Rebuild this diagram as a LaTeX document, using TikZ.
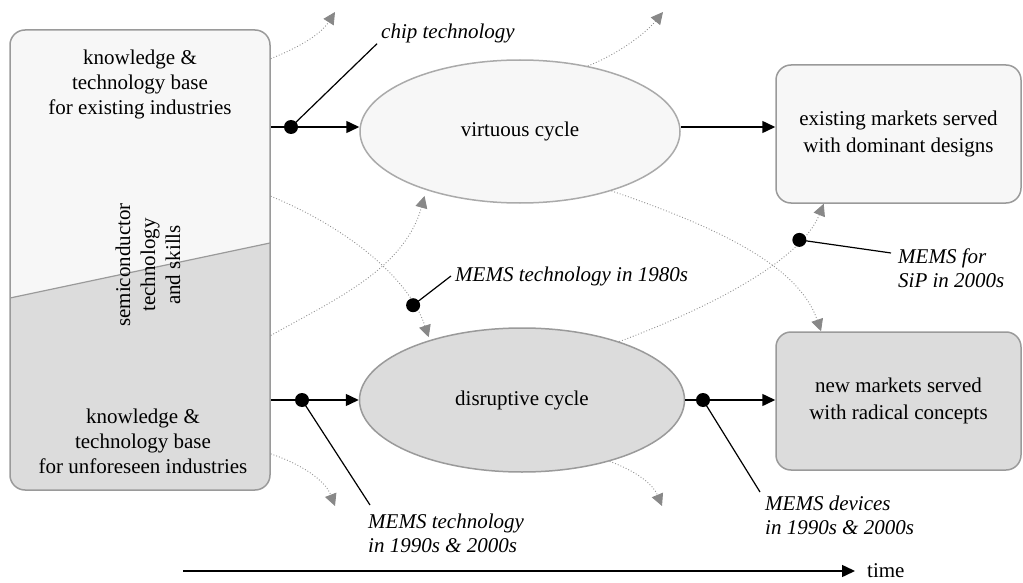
\documentclass[tikz,border=0pt]{standalone}
\usepackage{fontspec}
\setmainfont{Liberation Serif}
\usetikzlibrary{arrows.meta,shapes.geometric}
\definecolor{lightf}{HTML}{F7F7F7}
\definecolor{darkf}{HTML}{DCDCDC}
\definecolor{bord}{HTML}{9A9A9A}
\definecolor{bordl}{HTML}{AAAAAA}
\definecolor{flowc}{HTML}{909090}
\definecolor{tipc}{HTML}{888888}
\begin{document}
\begin{tikzpicture}[x=1pt,y=-1pt,
  every node/.style={font=\fontsize{21}{25}\selectfont},
  box/.style={rectangle, rounded corners=15pt, draw=bord, line width=1.5pt, align=center, inner sep=0pt},
  cyc/.style={ellipse, draw=bord, line width=1.5pt, inner sep=0pt},
  lab/.style={font=\itshape\fontsize{21}{24}\selectfont, inner sep=0pt, align=left},
  mainarr/.style={-{Triangle[length=13pt,width=12pt]}, line width=1.5pt},
  plain/.style={line width=1.5pt},
  lead/.style={line width=1.2pt},
  flow/.style={draw=flowc, line width=0.9pt, dotted, -{Triangle[length=12pt,width=12pt,color=tipc]}},
  dotc/.style={radius=7pt}]
\useasboundingbox (0,0) rectangle (1023,583);

% left box
\node[box, fill=darkf, minimum width=260pt, minimum height=460pt,
  path picture={
    \fill[lightf, sharp corners] (path picture bounding box.north west) -- (path picture bounding box.north east)
      -- ([yshift=247pt]path picture bounding box.south east)
      -- ([yshift=192pt]path picture bounding box.south west) -- cycle;
    \draw[bord, line width=1.2pt, sharp corners] ([yshift=247pt]path picture bounding box.south east)
      -- ([yshift=192pt]path picture bounding box.south west);
  }] (lbox) at (140,260) {};
\node[align=center] (ltop) at (140,84) {knowledge \&\\technology base\\for existing industries};
\node[align=center] (lbot) at (143,441) {knowledge \&\\technology base\\for unforeseen industries};
\node[align=center, rotate=90] (semi) at (148,265) {semiconductor\\technology\\and skills};

% cycles
\node[cyc, fill=lightf, draw=bordl, minimum width=320pt, minimum height=143pt] (vc) at (520,131.5) {virtuous cycle};
\node[cyc, fill=darkf, minimum width=325pt, minimum height=144pt] (dc) at (522,400) {disruptive cycle};

% markets
\node[box, fill=lightf, minimum width=245pt, minimum height=138pt, font=\fontsize{21}{27}\selectfont] (em) at (898.5,134) {existing markets served\\with dominant designs};
\node[box, fill=darkf, minimum width=245pt, minimum height=138pt, font=\fontsize{21}{27}\selectfont] (nm) at (898.5,401) {new markets served\\with radical concepts};

% main arrows
\coordinate (d1) at (291,127);
\coordinate (d2) at (302,400);
\coordinate (d3) at (703,400);
\draw[plain] (lbox.east |- d1) -- (d1);
\draw[mainarr] (d1) -- (vc.west |- d1);
\draw[mainarr] (vc.east |- d1) -- (em.west |- d1);
\draw[plain] (lbox.east |- d2) -- (d2);
\draw[mainarr] (d2) -- (dc.west);
\draw[plain] (dc.east) -- (d3);
\draw[mainarr] (d3) -- (nm.west |- d3);

% dotted flows
\coordinate (o1) at (335,12);
\coordinate (o2) at (663,12);
\coordinate (o7) at (335,506);
\coordinate (o8) at (662,506);
\draw[flow] (lbox.57) .. controls +(30,-12) and +(-14,22) .. (o1);
\draw[flow] (vc.44) .. controls +(30,-12) and +(-18,22) .. (o2);
\draw[flow, shorten >=3pt] (lbox.26) .. controls +(80,33) and +(-20,-60) .. (dc.147) coordinate[pos=0.8] (d80);
\draw[flow, shorten >=6pt] (lbox.-30) .. controls +(60,-34) and +(-22,80) .. (vc.212);
\draw[flow] (vc.-33) .. controls +(108,37) and +(-22,-65) .. (nm.138);
\draw[flow] (dc.31) .. controls +(80,-30) and +(-24,60) .. (em.223) coordinate[pos=0.79] (dsip);
\draw[flow] (lbox.-56) .. controls +(30,10) and +(-10,-26) .. (o7);
\draw[flow] (dc.-35) .. controls +(22,8) and +(-10,-24) .. (o8);

% labels
\node[lab, anchor=base west] (chip) at (381,39) {chip technology};
\node[lab, anchor=base west] (m80) at (455,281) {MEMS technology in 1980s};
\node[lab, anchor=north west] (sip) at (898,249) {MEMS for\\SiP in 2000s};
\node[lab, anchor=north west] (m90) at (368,514) {MEMS technology\\in 1990s \& 2000s};
\node[lab, anchor=north west] (dev) at (765,496) {MEMS devices\\in 1990s \& 2000s};

\draw[lead] (d1) -- ([xshift=-4pt]chip.south west);
\draw[lead] (d80) -- ([xshift=-4pt]m80.west);
\draw[lead] (dsip) -- ([xshift=-7pt,yshift=-4pt]sip.north west);
\draw[lead] (d2) -- ([xshift=2pt,yshift=9pt]m90.north west);
\draw[lead] (d3) -- ([xshift=-5pt,yshift=4pt]dev.north west);

% dots
\fill (d1) circle[dotc];
\fill (d2) circle[dotc];
\fill (d3) circle[dotc];
\fill (d80) circle[dotc];
\fill (dsip) circle[dotc];

% time axis
\coordinate (t0) at (183,571);
\node[anchor=west, inner xsep=12pt, inner ysep=0pt] (time) at (855,571) {time};
\draw[mainarr] (t0) -- (time.west);
\end{tikzpicture}
\end{document}
